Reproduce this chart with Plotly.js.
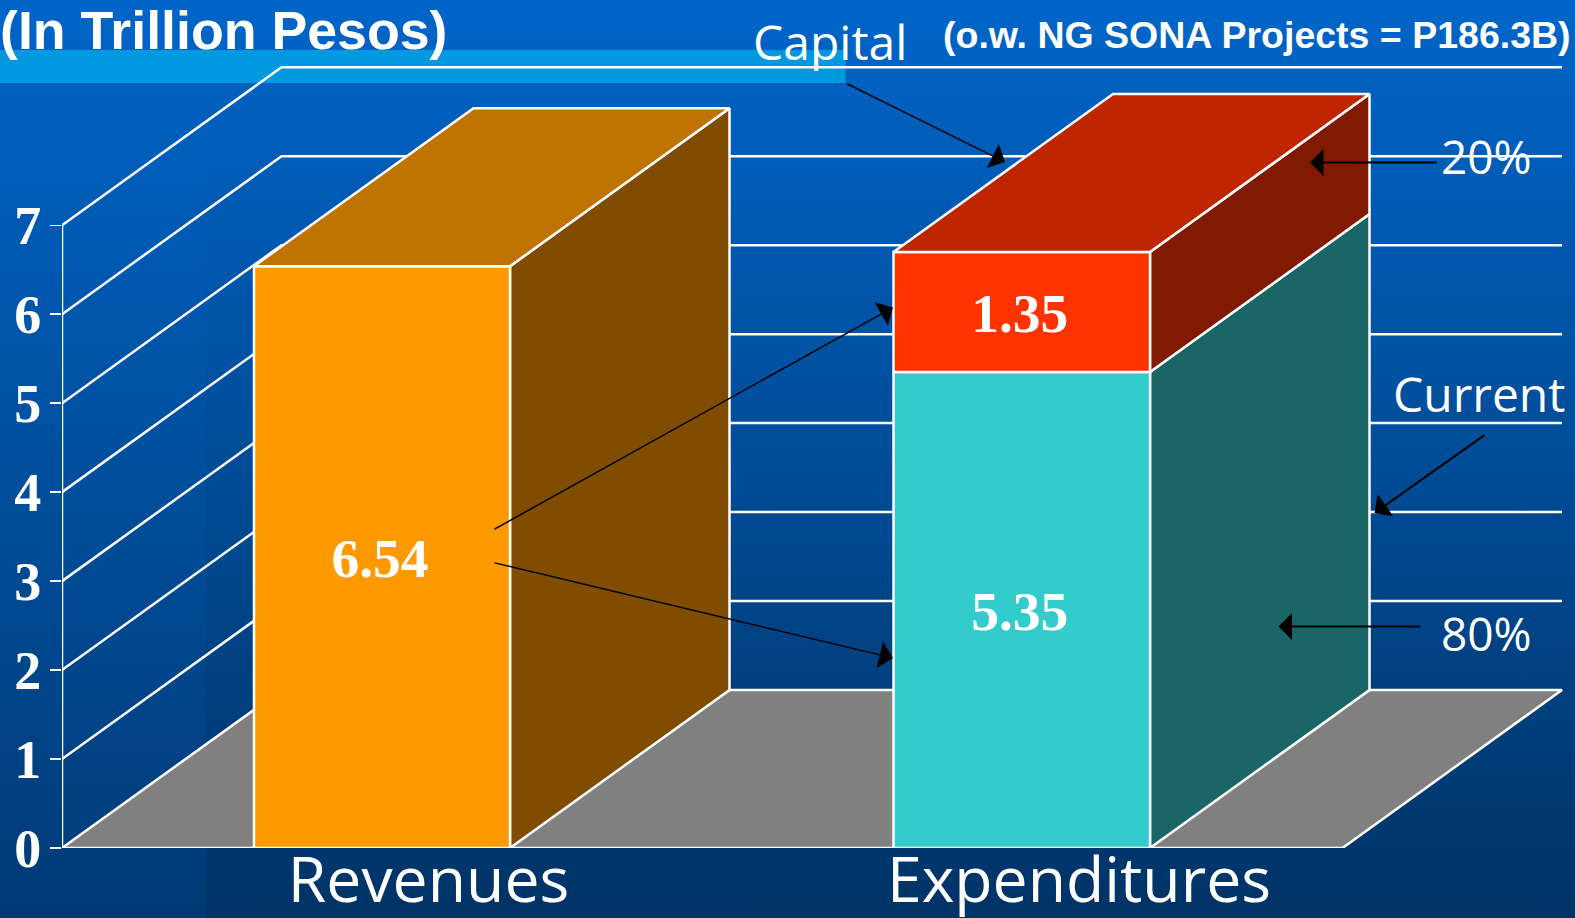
<!DOCTYPE html>
<html>
<head>
<meta charset="utf-8">
<script src="https://cdn.plot.ly/plotly-3.0.1.min.js"></script>
<style>
html,body{margin:0;padding:0;width:1575px;height:918px;overflow:hidden;
background:linear-gradient(180deg,#0065c9 0%,#0060bf 10%,#003366 100%);}
#strip{position:absolute;left:0;top:0;width:206px;height:918px;background:linear-gradient(180deg,#0065c9 0%,#0060bf 10%,#003a75 100%);}
#chart{position:absolute;left:0;top:0;width:1575px;height:918px;}
</style>
</head>
<body>
<div id="strip"></div>
<div id="chart"></div>
<script>
// ---- data ----
const categories = ['Revenues', 'Expenditures'];
const revenues = [6.54];
const currentExp = [5.35];
const capitalExp = [1.35];
const yTicks = [0, 1, 2, 3, 4, 5, 6, 7];
const yTickLabels = ['0', '1', '2', '3', '4', '5', '6', '7'];
const sharePct = ['80%', '20%'];

// ---- geometry ----
const Y0PX = 848, UNIT = 88.96;           // pixel of value 0, pixels per value unit
const py = p => (Y0PX - p) / UNIT;
const DX = 219.5, DY = 158 / UNIT;        // oblique depth
const LABEL_DROP = 6.5 / UNIT;
const wall = {x0: 62, x1: 1342.5};
const bar1 = {x0: 254, x1: 510};
const bar2 = {x0: 893.5, x1: 1150};
const labelX = [428.5, 1079];

const WHITE = '#ffffff';
const LW = 2.5;
const traces = [];
function poly(xs, ys, fill) {
  traces.push({
    type: 'scatter', mode: 'lines', x: xs.concat(xs[0]), y: ys.concat(ys[0]),
    fill: 'toself', fillcolor: fill, line: {color: WHITE, width: LW},
    hoverinfo: 'skip', showlegend: false, cliponaxis: false
  });
}
function wallLine(xs, ys) {
  traces.push({
    type: 'scatter', mode: 'lines', x: xs, y: ys,
    line: {color: WHITE, width: LW}, hoverinfo: 'skip', showlegend: false, cliponaxis: false
  });
}
function segment(b, lo, hi, cFront, cSide) {
  poly([b.x1, b.x1 + DX, b.x1 + DX, b.x1], [lo, lo + DY, hi + DY, hi], cSide);
  poly([b.x0, b.x1, b.x1, b.x0], [lo, lo, hi, hi], cFront);
}
function topFace(b, v, c) {
  poly([b.x0, b.x1, b.x1 + DX, b.x0 + DX], [v, v, v + DY, v + DY], c);
}

// floor
poly([wall.x0, wall.x1, wall.x1 + DX, wall.x0 + DX], [0, 0, DY, DY], '#808080');
// wall grid
wallLine([wall.x0, wall.x0], [0, yTicks[yTicks.length - 1]]);
yTicks.slice(1).forEach(v => wallLine([wall.x0, wall.x0 + DX, wall.x1 + DX], [v, v + DY, v + DY]));
// revenue bar
segment(bar1, 0, revenues[0], '#ff9900', '#804d00');
topFace(bar1, revenues[0], '#bf7300');
// expenditure bar
const total = currentExp[0] + capitalExp[0];
segment(bar2, 0, currentExp[0], '#33cccc', '#1a6666');
segment(bar2, currentExp[0], total, '#ff3300', '#801a00');
topFace(bar2, total, '#bf2600');
// value labels
traces.push({
  type: 'scatter', mode: 'text',
  x: [(bar1.x0 + bar1.x1) / 2 - 2, (bar2.x0 + bar2.x1) / 2 - 2, (bar2.x0 + bar2.x1) / 2 - 2],
  y: [revenues[0] / 2 - LABEL_DROP, currentExp[0] / 2 - LABEL_DROP, currentExp[0] + capitalExp[0] / 2 - LABEL_DROP],
  text: [revenues[0].toFixed(2), currentExp[0].toFixed(2), capitalExp[0].toFixed(2)],
  textposition: 'middle center',
  textfont: {family: '"Liberation Serif", serif', size: 55.5, color: WHITE, weight: 700},
  hoverinfo: 'skip', showlegend: false, cliponaxis: false
});

// ---- annotations ----
const SANS = '"Open Sans", sans-serif', ARIAL = '"Liberation Sans", sans-serif';
function txt(text, x, yPx, size, family, anchor, weight) {
  return {text, x, y: py(yPx), xref: 'x', yref: 'y', showarrow: false, xanchor: anchor || 'center', yanchor: 'middle',
    font: {family, size, color: WHITE, weight: weight || 400}, borderpad: 0, borderwidth: 0};
}
function arrow(tx, tyPx, hx, hyPx, w) {
  const width = w || 1.5;
  return {x: hx, y: py(hyPx), ax: tx, ay: py(tyPx), xref: 'x', yref: 'y', axref: 'x', ayref: 'y', text: '',
    showarrow: true, arrowhead: 1, arrowsize: 4.5 / width, arrowwidth: width, arrowcolor: '#000000', standoff: 0, startstandoff: 0};
}
const annotations = [
  txt('(In Trillion Pesos)', 447, 30, 53.7, ARIAL, 'right', 700),
  txt('(o.w. NG SONA Projects = P186.3B)', 1571, 35, 37.5, ARIAL, 'right', 700),
  txt('Capital', 830, 41, 48, SANS),
  txt(sharePct[1], 1486, 156, 46, SANS),
  txt(sharePct[0], 1486, 633, 46, SANS),
  txt('Current', 1479, 393, 48, SANS),
  arrow(845.5, 83, 1005, 162),
  arrow(1438, 162.5, 1310, 162.5, 2),
  arrow(1486, 434, 1374.5, 513, 2),
  arrow(1422, 626.5, 1278.5, 626.5, 2),
  arrow(493, 530, 893, 307.5),
  arrow(493, 562.5, 893, 658)
];

const PLOT_L = 62, PLOT_B = 918 - Y0PX;
const layout = {
  width: 1575, height: 918,
  margin: {l: PLOT_L, r: 0, t: 0, b: PLOT_B, pad: 0},
  paper_bgcolor: 'rgba(0,0,0,0)', plot_bgcolor: 'rgba(0,0,0,0)',
  showlegend: false,
  xaxis: {
    range: [PLOT_L, 1575], showgrid: false, zeroline: false, showline: false, ticks: '',
    tickmode: 'array', tickvals: labelX, ticktext: categories,
    tickfont: {family: SANS, size: 62.5, color: WHITE}, ticklabelstandoff: -10
  },
  yaxis: {
    range: [0, Y0PX / UNIT], showgrid: false, zeroline: false, showline: false,
    ticks: 'outside', ticklen: 11, tickwidth: 1.5, tickcolor: WHITE,
    tickmode: 'array', tickvals: yTicks, ticktext: yTickLabels, ticklabelstandoff: -2,
    tickfont: {family: '"Liberation Serif", serif', size: 54, color: WHITE, weight: 700}
  },
  shapes: [{
    type: 'rect', layer: 'below', xref: 'paper', yref: 'paper',
    x0: -PLOT_L / (1575 - PLOT_L), x1: (845.5 - PLOT_L) / (1575 - PLOT_L),
    y0: (Y0PX - 83) / Y0PX, y1: (Y0PX - 50) / Y0PX,
    fillcolor: '#0099e0', line: {width: 0}
  }],
  annotations
};
Plotly.newPlot('chart', traces, layout, {displayModeBar: false, staticPlot: true});
</script>
</body>
</html>
